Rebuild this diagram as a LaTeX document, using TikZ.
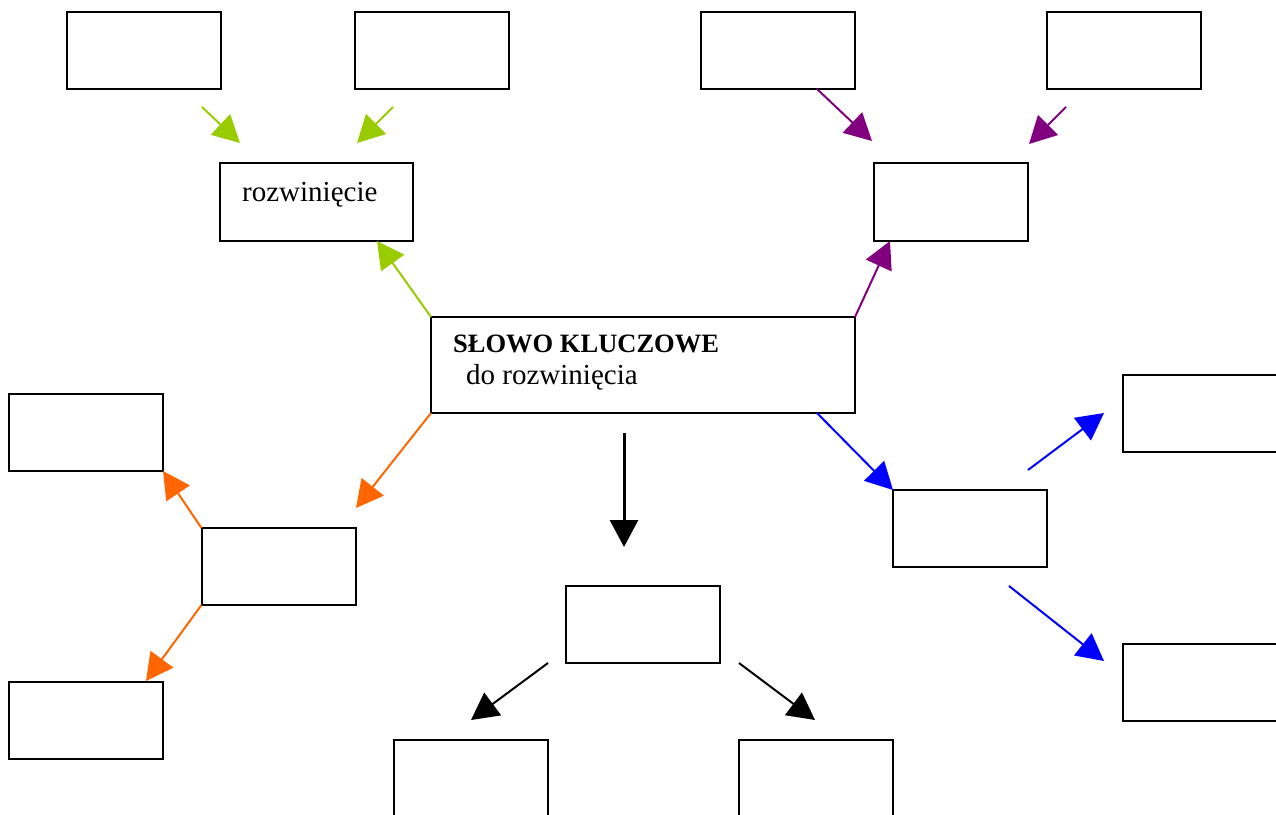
\documentclass[tikz,border=0pt]{standalone}
\usepackage{fontspec}
\setmainfont{Liberation Serif}
\usetikzlibrary{arrows.meta}
\definecolor{cgreen}{HTML}{99CC00}
\definecolor{cpurple}{HTML}{800080}
\definecolor{corange}{HTML}{FF6600}
\definecolor{cblue}{HTML}{0000FF}
\tikzset{
  box/.style={draw=black, line width=2pt, fill=none, inner sep=0pt, outer sep=0pt,
    minimum width=154pt, minimum height=77pt},
  conn/.style={line width=2pt, -{Triangle[length=27pt,width=28pt]}},
  txt/.style={inner sep=0pt, anchor=base west},
}
\begin{document}
\begin{tikzpicture}[x=1pt,y=-1pt]
\useasboundingbox (0,0) rectangle (1276,814);
% boxes
\node[box] (b1) at (144,50.5) {};
\node[box] (b2) at (432,50.5) {};
\node[box] (b3) at (778,50.5) {};
\node[box] (b4) at (1123.5,50.5) {};
\node[box, line width=1.5pt, minimum width=193pt, minimum height=78pt] (roz) at (316.5,202) {};
\node[box, minimum height=78pt] (pt) at (951,202) {};
\node[box, line width=1.5pt, minimum width=424pt, minimum height=96pt] (center) at (643,365) {};
\node[box] (l1) at (86,432.5) {};
\node[box] (l2) at (278.5,566.5) {};
\node[box] (l3) at (86,720.5) {};
\node[box] (cb) at (643,624.5) {};
\node[box, minimum height=120pt] (bl) at (470.5,800) {};
\node[box, minimum height=120pt] (br) at (816,800) {};
\node[box] (rm) at (970,528.5) {};
\node[box, minimum width=170pt] (rt) at (1208,413.5) {};
\node[box, minimum width=170pt] (rb) at (1208,682) {};
% texts
\node[txt, font=\fontsize{29}{32}\selectfont] (troz) at (242,201) {rozwinięcie};
\node[txt, font=\fontsize{26.5}{30}\selectfont\bfseries] (tkey) at (453,352) {SŁOWO KLUCZOWE};
\node[txt, font=\fontsize{29}{32}\selectfont] (tdo) at (466,384) {do rozwinięcia};
% free ends
\coordinate (g1s) at (202,107); \coordinate (g1t) at (240,143);
\coordinate (g2s) at (393,107); \coordinate (g2t) at (357,143);
\coordinate (g3t) at (377,241);
\coordinate (p1s) at (817,89);  \coordinate (p1t) at (872,141);
\coordinate (p2s) at (1066,107); \coordinate (p2t) at (1029,144);
\coordinate (p3t) at (890,241);
\coordinate (o1t) at (356,508);
\coordinate (o3t) at (146,681);
\coordinate (k1s) at (624,433); \coordinate (k1t) at (624,547);
\coordinate (k2s) at (548,663); \coordinate (k2t) at (471,720);
\coordinate (k3s) at (739,663); \coordinate (k3t) at (815,720);
\coordinate (u1s) at (817,413);
\coordinate (u2s) at (1028,470); \coordinate (u2t) at (1104,413);
\coordinate (u3s) at (1009,586); \coordinate (u3t) at (1104,661);
% green
\draw[conn, cgreen] (g1s) -- (g1t);
\draw[conn, cgreen] (g2s) -- (g2t);
\draw[conn, cgreen] (center.north west) -- (g3t);
% purple
\draw[conn, cpurple] (p1s) -- (p1t);
\draw[conn, cpurple] (p2s) -- (p2t);
\draw[conn, cpurple] (center.north east) -- (p3t);
% orange
\draw[conn, corange] (center.south west) -- (o1t);
\draw[conn, corange] (l2.north west) -- (l1.south east);
\draw[conn, corange] (l2.south west) -- (o3t);
% black
\draw[conn, black, line width=3pt] (k1s) -- (k1t);
\draw[conn, black] (k2s) -- (k2t);
\draw[conn, black] (k3s) -- (k3t);
% blue
\draw[conn, cblue] (u1s) -- (rm.north west);
\draw[conn, cblue] (u2s) -- (u2t);
\draw[conn, cblue] (u3s) -- (u3t);
\end{tikzpicture}
\end{document}
